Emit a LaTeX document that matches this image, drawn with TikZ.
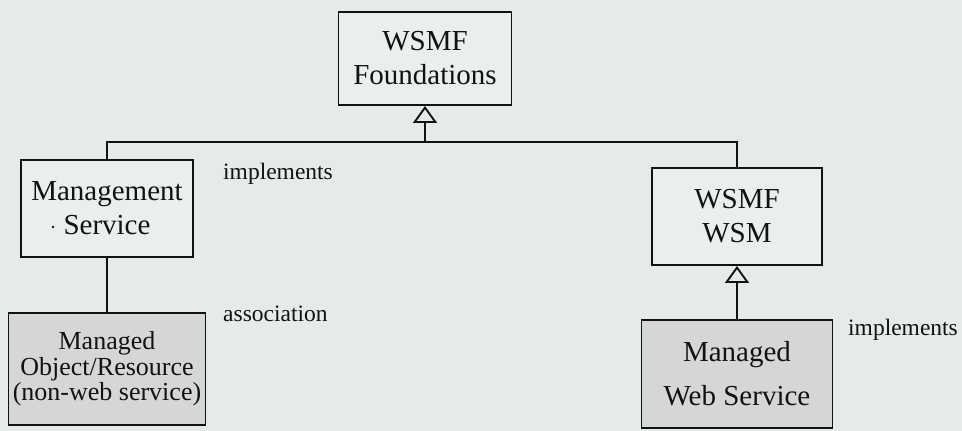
\documentclass[tikz,border=0pt]{standalone}
\usepackage{fontspec}
\setmainfont{Liberation Serif}
\usetikzlibrary{arrows.meta}
\definecolor{paper}{RGB}{229,236,232}
\definecolor{boxlight}{RGB}{233,239,236}
\definecolor{boxgray}{RGB}{212,215,213}
\definecolor{ink}{RGB}{18,18,18}
\begin{document}
\begin{tikzpicture}[x=1pt,y=-1pt,
  classbox/.style={draw=ink, line width=1.9pt, fill=boxlight, inner sep=0pt,
    align=center, text=ink},
  managed/.style={classbox, fill=boxgray},
  bigtext/.style={font=\fontsize{29}{34}\selectfont},
  note/.style={font=\fontsize{23.5}{28}\selectfont, text=ink, inner sep=0pt,
    anchor=base west},
  link/.style={draw=ink, line width=1.9pt},
  realize/.style={link, -{Triangle[open, length=17pt, width=24pt, line width=1.9pt]}}
]
% page
\fill[paper] (0,0) rectangle (962,431);
\useasboundingbox (0,0) rectangle (962,431);

% classes
\node[classbox, bigtext, minimum width=173pt, minimum height=93pt]
  (found) at (425,58.5) {WSMF\\Foundations};
\node[classbox, bigtext, minimum width=172pt, minimum height=97pt]
  (ms) at (107,208.5) {Management\\Service};
\node[managed, font=\fontsize{26}{25.5}\selectfont, minimum width=197pt, minimum height=112pt]
  (mo) at (107,369) {Managed\\Object/Resource\\(non-web service)};
\node[classbox, bigtext, minimum width=170pt, minimum height=97pt]
  (wsm) at (737,216.5) {WSMF\\WSM};
\node[managed, font=\fontsize{29}{44}\selectfont, minimum width=191pt, minimum height=108pt]
  (mws) at (737,374) {Managed\\Web Service};

% stray mark before "Service"
\fill[ink] (53,227) circle (1.3pt);

% generalisation bus to the foundations
\path (found.south) ++(0,36) coordinate (bus);
\draw[link] (ms.north) |- (bus) -| (wsm.north);
\draw[realize] (bus) -- (found.south);

% managed web service realises WSM
\draw[realize] (mws.north) -- (wsm.south);

% association between management service and managed resource
\draw[link] (ms.south) -- (mo.north);

% labels
\node[note] (implA) at (223,179) {implements};
\node[note] (assoc) at (223,321) {association};
\node[note] (implB) at (848,335) {implements};
\end{tikzpicture}
\end{document}
